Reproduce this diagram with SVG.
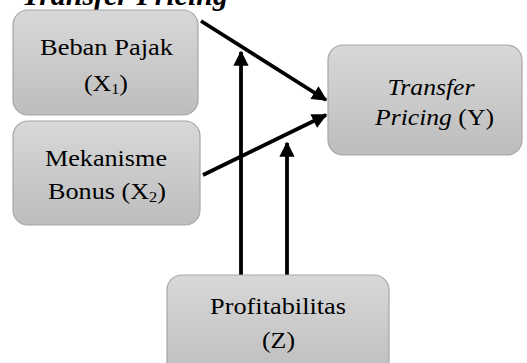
<svg xmlns="http://www.w3.org/2000/svg" width="527" height="363" viewBox="0 0 527 363">
<defs>
<linearGradient id="g" x1="0" y1="0" x2="0" y2="1">
<stop offset="0" stop-color="#d8d8d8"/>
<stop offset="1" stop-color="#bdbdbd"/>
</linearGradient>
<marker id="ah" viewBox="0 0 10 10" refX="9" refY="5" markerWidth="4.2" markerHeight="4" markerUnits="strokeWidth" orient="auto">
<path d="M0,0 L10,5 L0,10 z" fill="#000"/>
</marker>
<style>
.box{fill:url(#g);stroke:#a6a6a6;stroke-width:1.2}
.t{font-family:"Liberation Serif","Times New Roman",serif;font-size:24px;fill:#000;text-anchor:middle}
.i{font-style:italic}
.sub{font-size:15px}
.c{stroke:#000;stroke-width:3.8;fill:none;marker-end:url(#ah)}
.h{font-family:"Liberation Serif","Times New Roman",serif;font-size:29px;font-weight:bold;font-style:italic;fill:#000}
</style>
</defs>
<text class="h" x="22" y="4.5" textLength="206" lengthAdjust="spacingAndGlyphs">Transfer Pricing</text>
<g id="connectors">
<line class="c" x1="201" y1="21" x2="326" y2="100"/>
<line class="c" x1="203" y1="175" x2="326" y2="115"/>
<line class="c" x1="241" y1="275" x2="241" y2="52"/>
<line class="c" x1="287" y1="275" x2="287" y2="143"/>
</g>
<g id="node-x1">
<rect class="box" x="13" y="10" width="185" height="105" rx="15"/>
<text class="t" x="106.5" y="55" textLength="133" lengthAdjust="spacingAndGlyphs">Beban Pajak</text>
<text class="t" x="106" y="91" textLength="44" lengthAdjust="spacingAndGlyphs">(X<tspan class="sub" dy="3">1</tspan><tspan dy="-3">)</tspan></text>
</g>
<g id="node-x2">
<rect class="box" x="13" y="121" width="187" height="104" rx="15"/>
<text class="t" x="106" y="166" textLength="122" lengthAdjust="spacingAndGlyphs">Mekanisme</text>
<text class="t" x="107" y="199" textLength="118" lengthAdjust="spacingAndGlyphs">Bonus (X<tspan class="sub" dy="3">2</tspan><tspan dy="-3">)</tspan></text>
</g>
<g id="node-y">
<rect class="box" x="328" y="45" width="194" height="110" rx="15"/>
<text class="t i" x="431" y="95" textLength="87" lengthAdjust="spacingAndGlyphs">Transfer</text>
<text class="t" x="434.5" y="125" textLength="119" lengthAdjust="spacingAndGlyphs"><tspan class="i">Pricing</tspan> (Y)</text>
</g>
<g id="node-z">
<rect class="box" x="167" y="275" width="222" height="105" rx="15"/>
<text class="t" x="278" y="314" textLength="136" lengthAdjust="spacingAndGlyphs">Profitabilitas</text>
<text class="t" x="278.5" y="348" textLength="33" lengthAdjust="spacingAndGlyphs">(Z)</text>
</g>
</svg>
